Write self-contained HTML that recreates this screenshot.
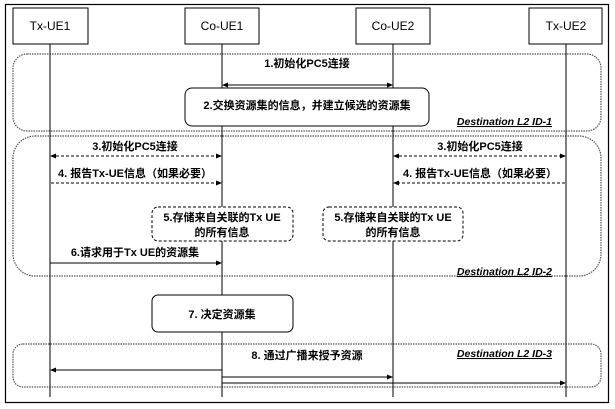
<!DOCTYPE html>
<html><head><meta charset="utf-8"><style>
body{margin:0;background:#fff}
svg{display:block}
text{font-family:"Liberation Sans","Noto Sans CJK SC",sans-serif;fill:#000}
.b{font-weight:bold;font-size:11px}
.d{font-weight:bold;font-style:italic;font-size:10.5px;text-decoration:underline}
</style></head><body>
<svg width="615" height="409" viewBox="0 0 615 409" xmlns="http://www.w3.org/2000/svg">
<defs>
<marker id="a" markerWidth="6" markerHeight="6" refX="5" refY="3" orient="auto-start-reverse" markerUnits="userSpaceOnUse"><path d="M0,0.5 L6,3 L0,5.5 z" fill="#000"/></marker>
</defs>
<rect x="5.5" y="4.5" width="603" height="398" fill="none" stroke="#000" stroke-width="1.2"/>
<rect x="13" y="54" width="588" height="77" rx="14" fill="none" stroke="#555" stroke-dasharray="1.5,1" stroke-width="1.2"/>
<rect x="13" y="136" width="588" height="140" rx="22" fill="none" stroke="#555" stroke-dasharray="1.5,1" stroke-width="1.2"/>
<rect x="13" y="344" width="588" height="43" rx="10" fill="none" stroke="#555" stroke-dasharray="1.5,1" stroke-width="1.2"/>
<g stroke="#000" stroke-width="1">
<line x1="50" y1="44" x2="50" y2="397"/>
<line x1="222" y1="44" x2="222" y2="397"/>
<line x1="393" y1="44" x2="393" y2="397"/>
<line x1="566" y1="44" x2="566" y2="397"/>
</g>
<g fill="#fff" stroke="#000" stroke-width="1">
<rect x="13" y="8" width="75" height="36"/>
<rect x="185" y="8" width="74" height="36"/>
<rect x="356" y="8" width="74" height="36"/>
<rect x="529" y="8" width="73" height="36"/>
</g>
<g font-size="12" text-anchor="middle">
<text x="50" y="30">Tx-UE1</text>
<text x="222" y="30">Co-UE1</text>
<text x="393" y="30">Co-UE2</text>
<text x="566" y="30">Tx-UE2</text>
</g>
<text class="b" x="307" y="67" text-anchor="middle">1.初始化PC5连接</text>
<line x1="223" y1="85" x2="392" y2="85" stroke="#000" marker-start="url(#a)" marker-end="url(#a)"/>
<rect x="185" y="88" width="244" height="38" rx="7" fill="#fff" stroke="#000"/>
<text class="b" x="307" y="109" text-anchor="middle">2.交换资源集的信息，并建立候选的资源集</text>
<text class="d" x="552" y="125" text-anchor="end">Destination L2 ID-1</text>
<g stroke="#000" stroke-dasharray="3,2">
<line x1="51" y1="156" x2="221" y2="156" marker-start="url(#a)" marker-end="url(#a)"/>
<line x1="394" y1="156" x2="565" y2="156" marker-start="url(#a)" marker-end="url(#a)"/>
<line x1="51" y1="183" x2="221" y2="183" marker-end="url(#a)"/>
<line x1="565" y1="183" x2="394" y2="183" marker-end="url(#a)"/>
</g>
<text class="b" x="135" y="150" text-anchor="middle">3.初始化PC5连接</text>
<text class="b" x="480" y="150" text-anchor="middle">3.初始化PC5连接</text>
<text class="b" x="135" y="177" text-anchor="middle">4. 报告Tx-UE信息（如果必要）</text>
<text class="b" x="480" y="177" text-anchor="middle">4. 报告Tx-UE信息（如果必要）</text>
<rect x="152" y="207" width="141" height="34" rx="6" fill="#fff" stroke="#000" stroke-dasharray="3,2"/>
<rect x="323" y="207" width="140" height="34" rx="6" fill="#fff" stroke="#000" stroke-dasharray="3,2"/>
<text class="b" x="222" y="221" text-anchor="middle">5.存储来自关联的Tx UE</text>
<text class="b" x="222" y="236" text-anchor="middle">的所有信息</text>
<text class="b" x="393" y="221" text-anchor="middle">5.存储来自关联的Tx UE</text>
<text class="b" x="393" y="236" text-anchor="middle">的所有信息</text>
<text class="b" x="135" y="256" text-anchor="middle">6.请求用于Tx UE的资源集</text>
<line x1="50" y1="263" x2="221" y2="263" stroke="#000" marker-end="url(#a)"/>
<text class="d" x="552" y="275" text-anchor="end">Destination L2 ID-2</text>
<rect x="152" y="295" width="141" height="37" rx="6" fill="#fff" stroke="#000"/>
<text class="b" x="222" y="318" text-anchor="middle">7. 决定资源集</text>
<text class="b" x="307" y="359" text-anchor="middle">8. 通过广播来授予资源</text>
<text class="d" x="552" y="357" text-anchor="end">Destination L2 ID-3</text>
<g stroke="#000">
<line x1="222" y1="370" x2="51" y2="370" marker-end="url(#a)"/>
<line x1="222" y1="377" x2="392" y2="377" marker-end="url(#a)"/>
<line x1="222" y1="383" x2="565" y2="383" marker-end="url(#a)"/>
</g>
</svg>
</body></html>
